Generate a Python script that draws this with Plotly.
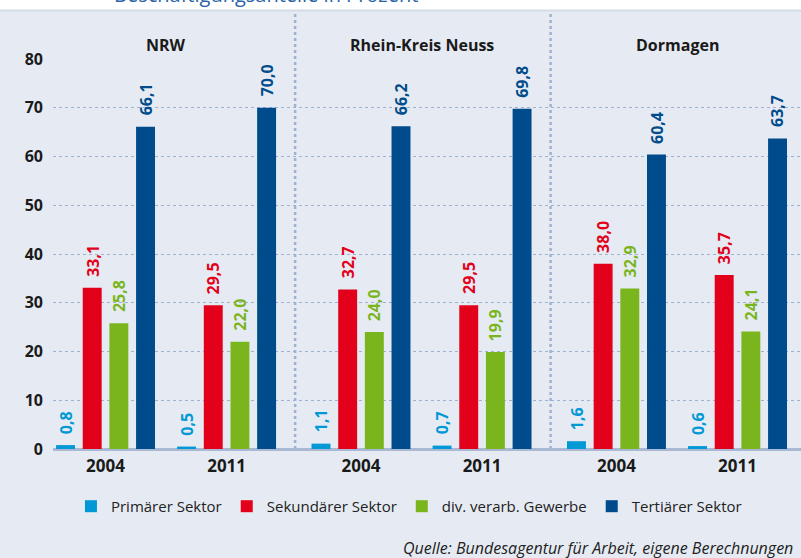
import plotly.graph_objects as go

regions = ["NRW", "Rhein-Kreis Neuss", "Dormagen"]
years = ["2004", "2011"]
sectors = ["Primärer Sektor", "Sekundärer Sektor", "div. verarb. Gewerbe", "Tertiärer Sektor"]
colors = ["#0099d5", "#e2001a", "#7ab51d", "#004b8b"]

# values per sector, order: NRW 2004, NRW 2011, RKN 2004, RKN 2011, Dormagen 2004, Dormagen 2011
primaer = [0.8, 0.5, 1.1, 0.7, 1.6, 0.6]
sekundaer = [33.1, 29.5, 32.7, 29.5, 38.0, 35.7]
verarb = [25.8, 22.0, 24.0, 19.9, 32.9, 24.1]
tertiaer = [66.1, 70.0, 66.2, 69.8, 60.4, 63.7]
series = [primaer, sekundaer, verarb, tertiaer]

y_ticks = [0, 10, 20, 30, 40, 50, 60, 70, 80]

title = "Beschäftigungsanteile in Prozent"
source = "Quelle: Bundesagentur für Arbeit, eigene Berechnungen"

# layout geometry (in bar-step units)
REGION_STEP = 9.58
YEAR_STEP = 4.54
offsets = [-1.5, -0.5, 0.5, 1.5]
BAR_W = 0.71

centers = []
for gi in range(len(regions)):
    for yi in range(len(years)):
        centers.append(gi * REGION_STEP + yi * YEAR_STEP)

FONT = "Open Sans"
fig = go.Figure()
annotations = []
for si, (name, vals) in enumerate(zip(sectors, series)):
    xs = [c + offsets[si] for c in centers]
    fig.add_trace(go.Bar(
        x=xs, y=vals, name=name, width=BAR_W,
        marker=dict(color=colors[si], line=dict(width=0)),
        cliponaxis=False, hoverinfo="skip",
    ))
    for x, v in zip(xs, vals):
        annotations.append(dict(
            x=x, y=v, xref="x", yref="y",
            text=f"{v:.1f}".replace(".", ","),
            textangle=-90, showarrow=False,
            xanchor="center", yanchor="bottom", yshift=9,
            font=dict(family=FONT, size=16, color=colors[si], weight="bold"),
        ))

# region headers
for gi, r in enumerate(regions):
    cx = (centers[2 * gi] + centers[2 * gi + 1]) / 2
    annotations.append(dict(
        x=cx, y=1.037, xref="x", yref="paper", text=r, showarrow=False,
        font=dict(family=FONT, size=16, color="#1a1a1a", weight="bold"),
        xanchor="center", yanchor="middle",
    ))

# title (cut at top) and source
annotations.append(dict(
    x=(112 - 53) / 748, y=(449.5 + 5) / 390, xref="paper", yref="paper", text=title,
    showarrow=False, font=dict(family=FONT, size=20, color="#2a63a6"),
    xanchor="left", yanchor="middle",
))
annotations.append(dict(
    x=0.992, y=-0.2526, xref="paper", yref="paper", text=source, showarrow=False,
    font=dict(family=FONT, size=16, color="#222222", style="italic"),
    xanchor="right", yanchor="middle",
))

shapes = []
# dividers between regions
for gi in range(len(regions) - 1):
    xm = (centers[2 * gi + 1] + centers[2 * gi + 2]) / 2 + 0.05
    shapes.append(dict(
        type="line", xref="x", yref="paper", x0=xm, x1=xm, y0=0, y1=1.125,
        line=dict(color="#9fb2d0", width=2.5, dash="dot"), layer="below",
    ))
# white top strip
shapes.append(dict(type="rect", xref="paper", yref="paper", x0=-0.2, x1=1.2,
                   y0=1.122, y1=1.3, fillcolor="#d4dce7", line=dict(width=0), layer="below"))
shapes.append(dict(type="rect", xref="paper", yref="paper", x0=-0.2, x1=1.2,
                   y0=1.127, y1=1.3, fillcolor="#ffffff", line=dict(width=0), layer="below"))

x_left = -1.97
x_right = 26.08

fig.update_layout(
    width=801, height=558,
    margin=dict(l=53, r=0, t=59, b=109, autoexpand=False),
    paper_bgcolor="#e6ebf3", plot_bgcolor="#e6ebf3",
    barmode="overlay",
    showlegend=True,
    legend=dict(orientation="h", x=0.024, y=-0.105, xanchor="left", yanchor="top",
                font=dict(family=FONT, size=15, color="#222222"),
                bgcolor="rgba(0,0,0,0)", itemwidth=30, tracegroupgap=0),
    xaxis=dict(range=[x_left, x_right], tickvals=centers, ticktext=years * len(regions),
               showgrid=False, zeroline=False, showline=False, ticks="",
               ticklabelstandoff=5,
               tickfont=dict(family=FONT, size=17, color="#1a1a1a", weight="bold")),
    yaxis=dict(range=[0, 80], tickvals=y_ticks, showgrid=True, gridcolor="#9fb2d0",
               griddash="dot", gridwidth=1, zeroline=True, zerolinecolor="#a9b9d4",
               zerolinewidth=2.5, ticks="", ticklabelstandoff=9,
               tickfont=dict(family=FONT, size=16, color="#1a1a1a", weight="bold")),
    annotations=annotations,
    shapes=shapes,
    font=dict(family=FONT),
)

fig.write_html("out.html", config={"displayModeBar": False},
               post_script="document.body.style.margin='0';")
